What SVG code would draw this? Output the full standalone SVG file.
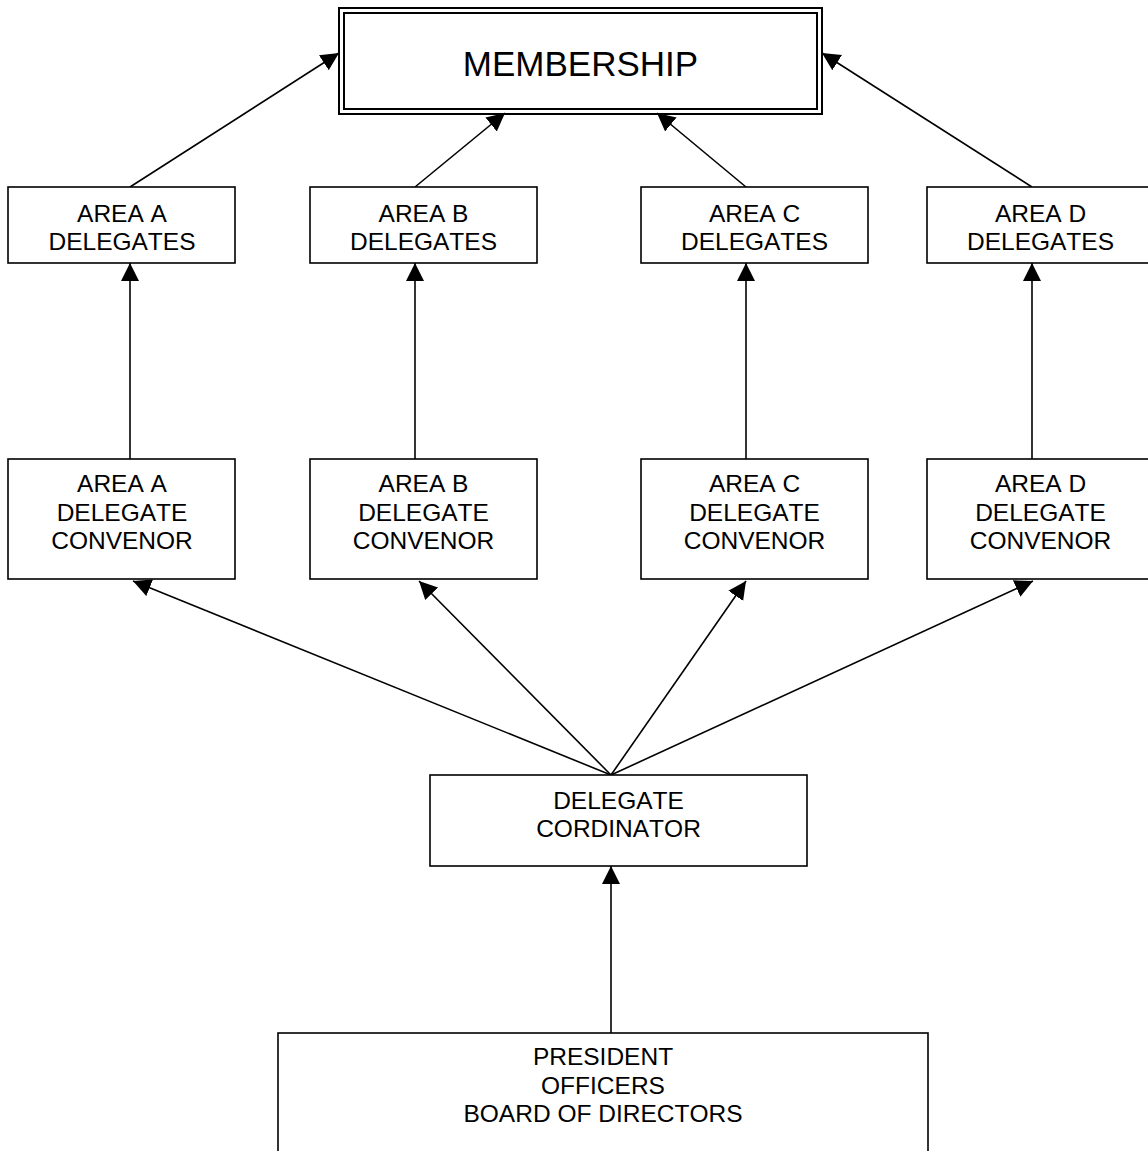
<svg xmlns="http://www.w3.org/2000/svg" width="1148" height="1151" viewBox="0 0 1148 1151">
<style>
  .box{fill:#fff;stroke:#000;stroke-width:1.6}
  .dbl{fill:none;stroke:#000;stroke-width:2}
  .t{font-family:"Liberation Sans",Arial,sans-serif;font-size:24.5px;font-kerning:none;fill:#000;text-anchor:middle}
  .big{font-size:35px}
  .c{stroke:#000;stroke-width:1.6;fill:none;marker-end:url(#ah)}
</style>
<defs>
  <marker id="ah" markerUnits="userSpaceOnUse" markerWidth="20" markerHeight="20" refX="18" refY="9" orient="auto" viewBox="0 0 20 18">
    <path d="M0,0 L18,9 L0,18 z" fill="#000"/>
  </marker>
</defs>
<rect width="1148" height="1151" fill="#fff"/>
<g id="connectors">
  <line class="c" x1="130" y1="187" x2="339" y2="53"/>
  <line class="c" x1="415" y1="187" x2="505" y2="113"/>
  <line class="c" x1="746" y1="187" x2="657" y2="113"/>
  <line class="c" x1="1032" y1="187" x2="822" y2="53"/>
  <line class="c" x1="130" y1="459" x2="130" y2="263"/>
  <line class="c" x1="415" y1="459" x2="415" y2="263"/>
  <line class="c" x1="746" y1="459" x2="746" y2="263"/>
  <line class="c" x1="1032" y1="459" x2="1032" y2="263"/>
  <line class="c" x1="611" y1="775" x2="133" y2="581"/>
  <line class="c" x1="611" y1="775" x2="419" y2="581"/>
  <line class="c" x1="611" y1="775" x2="746" y2="581"/>
  <line class="c" x1="611" y1="775" x2="1033" y2="581"/>
  <line class="c" x1="611" y1="1033" x2="611" y2="866"/>
</g>
<g id="membership">
  <rect x="339" y="8" width="483" height="106" fill="#fff" class="dbl"/>
  <rect x="344" y="13" width="473" height="96" class="dbl"/>
  <text class="t big" x="580.5" y="76">MEMBERSHIP</text>
</g>
<g id="area-a-delegates">
  <rect class="box" x="8" y="187" width="227" height="76"/>
  <text class="t" x="122" y="222">AREA A</text>
  <text class="t" x="122" y="250">DELEGATES</text>
</g>
<g id="area-b-delegates">
  <rect class="box" x="310" y="187" width="227" height="76"/>
  <text class="t" x="423.5" y="222">AREA B</text>
  <text class="t" x="423.5" y="250">DELEGATES</text>
</g>
<g id="area-c-delegates">
  <rect class="box" x="641" y="187" width="227" height="76"/>
  <text class="t" x="754.5" y="222">AREA C</text>
  <text class="t" x="754.5" y="250">DELEGATES</text>
</g>
<g id="area-d-delegates">
  <rect class="box" x="927" y="187" width="227" height="76"/>
  <text class="t" x="1040.5" y="222">AREA D</text>
  <text class="t" x="1040.5" y="250">DELEGATES</text>
</g>
<g id="area-a-convenor">
  <rect class="box" x="8" y="459" width="227" height="120"/>
  <text class="t" x="122" y="492">AREA A</text>
  <text class="t" x="122" y="521">DELEGATE</text>
  <text class="t" x="122" y="549">CONVENOR</text>
</g>
<g id="area-b-convenor">
  <rect class="box" x="310" y="459" width="227" height="120"/>
  <text class="t" x="423.5" y="492">AREA B</text>
  <text class="t" x="423.5" y="521">DELEGATE</text>
  <text class="t" x="423.5" y="549">CONVENOR</text>
</g>
<g id="area-c-convenor">
  <rect class="box" x="641" y="459" width="227" height="120"/>
  <text class="t" x="754.5" y="492">AREA C</text>
  <text class="t" x="754.5" y="521">DELEGATE</text>
  <text class="t" x="754.5" y="549">CONVENOR</text>
</g>
<g id="area-d-convenor">
  <rect class="box" x="927" y="459" width="227" height="120"/>
  <text class="t" x="1040.5" y="492">AREA D</text>
  <text class="t" x="1040.5" y="521">DELEGATE</text>
  <text class="t" x="1040.5" y="549">CONVENOR</text>
</g>
<g id="delegate-cordinator">
  <rect class="box" x="430" y="775" width="377" height="91"/>
  <text class="t" x="618.5" y="809">DELEGATE</text>
  <text class="t" x="618.5" y="837">CORDINATOR</text>
</g>
<g id="president">
  <rect class="box" x="278" y="1033" width="650" height="200"/>
  <text class="t" x="603" y="1065">PRESIDENT</text>
  <text class="t" x="603" y="1094">OFFICERS</text>
  <text class="t" x="603" y="1122">BOARD OF DIRECTORS</text>
</g>
</svg>
